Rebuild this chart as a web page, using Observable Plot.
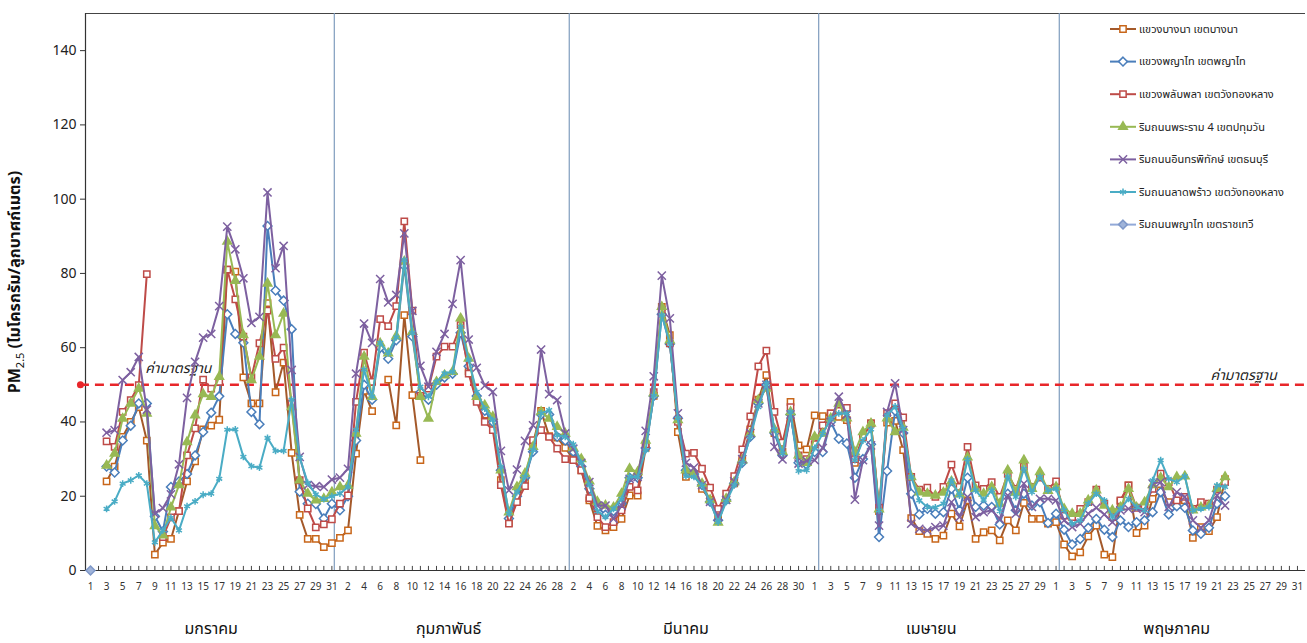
<!DOCTYPE html>
<html><head><meta charset="utf-8">
<script src="https://cdn.jsdelivr.net/npm/d3@7"></script>
<script src="https://cdn.jsdelivr.net/npm/@observablehq/plot@0.6"></script>
<style>body{margin:0;background:#fff}svg{display:block}</style>
</head><body><div id="chart"></div>
<script>
// ---------- data ----------
const monthNames = ["มกราคม","กุมภาพันธ์","มีนาคม","เมษายน","พฤษภาคม"];
const monthDays = [31, 28, 31, 30, 31];
const seriesNames = [
  "แขวงบางนา เขตบางนา",
  "แขวงพญาไท เขตพญาไท",
  "แขวงพลับพลา เขตวังทองหลาง",
  "ริมถนนพระราม 4 เขตปทุมวัน",
  "ริมถนนอินทรพิทักษ์ เขตธนบุรี",
  "ริมถนนลาดพร้าว เขตวังทองหลาง",
  "ริมถนนพญาไท เขตราชเทวี"
];
const yTicks = [0, 20, 40, 60, 80, 100, 120, 140];
const standardValue = 50;
const standardLabel = "ค่ามาตรฐาน";
const dividerAt = [30.3, 59.5, 90.5, 120.4];

// daily values, Jan 1 .. May 31 (missing days = null)
const bangna = [
  null,null,24,28,36,40,44,35,4.3,7.5,8.5,16,24,29.4,38,39,40.6,81,80.5,52,45,45,72,48,56,31.7,15,8.5,8.5,6.3,7.4,
  8.8,10.8,31.5,48.4,42.9,null,51.4,39.1,68.8,47.2,29.7,null,null,null,null,null,53.7,45.9,42,40,24.3,12.8,18.9,24.3,34.2,43,36.2,35.8,
  33,30,27,18.9,12,10.8,11.7,13.9,20.2,20.2,33,47,71,63.4,37.3,25.2,26,22,19,14.4,19,23.5,30,38,46,52.6,37,32,45.4,33.7,32.6,
  41.8,41.6,42.3,41.4,40.5,29,36,39.6,16,39.8,40.3,32.4,14.1,10.6,9.9,8.5,9.4,15.3,11.9,18.9,8.5,10.3,10.8,8.1,13.5,10.8,18.2,13.9,13.9,12.6,
  13,7,3.8,4.9,9.2,12.1,4.3,3.6,18.6,22.9,10.1,12.1,19.3,21.6,18.4,18.4,18.9,8.8,11.7,10.6,14.4,24.6
];
const phayathai = [
  null,null,28,26.4,35,39,45,45,14.6,10.5,22.5,24,26,31,37.3,42.5,46.9,69,63.7,61.3,42.7,39.4,92.8,75.4,72.7,65,21.2,18,17.9,14,18,
  16.2,20,35,50,46,60,57,62,82,63,48,46,50,52,53,64,55,47,43,40,27,14,20,25,32,42,42,36,
  35,32,28,22,17,15,16,18,25,25,33,47,69,61,41,27,26,23,18.5,13.5,19,23.5,29,36,45,50,37,31,42,29,28.5,
  31.9,31.9,40,35.5,34.2,25,30,34,9,26.8,43,37,20.7,15.1,16.6,15.3,15.7,22,16.2,25,17.1,17.5,17.1,12.4,20.7,16.2,20.7,17.5,18.4,12.8,
  15.3,11,7,8.5,11.5,13.9,11,9,13.5,11.7,13,13.5,15.7,21.1,15.1,17.3,16.9,10.8,9.9,11.5,18,20
];
const phlapphla = [
  null,null,34.8,33.3,42.7,45.9,49.9,79.8,null,9,14.3,16,31,38.3,51.4,49,50.8,81,73,63,52,61.2,70,57,60,45,24.3,16.7,11.6,12.4,13.8,
  18,20.2,45.4,58.7,50.8,67.7,65.8,71.2,94,70,47,49,57.6,60.3,60.3,66.1,53,45.4,40,37.8,23,12.6,18.4,22.7,35.1,37.8,36,32.8,
  30,29.7,27,19.5,14.4,11.7,13,16.2,22.5,21.6,34,48,70.1,61.2,40,31.5,31.7,27.4,22.3,16.6,20.7,25.4,32.6,41.5,55,59.2,42.7,34.4,44,31,30,
  34,39.1,42.3,43,43.8,30,36,39.6,16.9,42.4,45,41.2,25.2,21.8,22.3,19.8,22.5,28.5,22.5,33.3,22.9,22,23.8,19.8,26,22,28,22.5,25,22,
  24,14.8,14.4,16.6,18.4,21.8,18,14.4,18.9,22.9,16.9,17.5,22,26.1,23.8,18.9,19.8,16.6,18.4,18,21.8,23.8
];
const rama4 = [
  null,null,28.3,31.5,40.9,45,49,42.3,12,9.5,17,23,34.6,41.8,47.5,46.8,52.2,88.6,78,63.4,51.3,57.6,77.3,63.4,69.2,44,24.3,20.7,18.9,19.3,21.1,
  22.5,22.9,36.9,57.6,46.8,61.2,58.5,63.1,83.2,64.3,46.8,40.9,50.8,52.6,53.5,67.9,57.1,46.8,44.5,41.4,27,15.7,22.5,26.1,33.3,42.7,40.9,38.7,
  36.9,33,30,24,18.5,17.5,17,20.7,27.4,26.5,35,47.7,71,62,40.5,27,26,23.4,19,12.9,19.3,23.8,29.7,36.9,45.9,49,38,32,42.7,31,29,
  36,36.9,41,45,41,31.9,37.3,39.6,16.5,41,37.3,38.5,25.2,21.1,20.7,20.2,21,24,20.5,30.5,22,20.7,22.5,18,27,21,29.7,22,26.5,21.5,
  22.5,16.6,15.3,15.3,18.9,21.6,17.5,16.2,17,22,17,18.4,23,25,22.5,25.2,25.4,16.2,17,17.5,22,25.2
];
const inthara = [
  null,null,37.1,37.8,51.3,53.4,57.5,43.3,15.3,16.8,20.5,28.6,46.5,56.2,62.7,63.7,71.2,92.6,86.5,78.7,66.7,68.3,101.8,81.4,87.4,54,30.6,23,22.7,22.5,24.5,
  25,27.4,53,66.5,61.3,78.5,72.2,74.2,90.8,69.9,55.1,49.5,58.9,63.7,71.8,83.6,62.2,54.6,49.8,48.1,32.2,21.6,27.2,34.9,39.1,59.5,47.5,45.9,
  36.9,32.8,29,23.8,17.5,17.5,13.9,17.5,24.7,25.2,37.6,52.3,79.4,67.9,42.3,29,27.7,23,18.5,14.5,19,24,30,37,45,50,33.3,29.9,42,28.8,29.5,
  29.7,33,40,46.8,42,19.1,29.7,33.7,12.1,42.7,50.4,37.8,12.6,11.2,10.8,11.7,12.1,18.4,14.4,19.8,14.4,15.7,16.2,13.9,20.2,15.3,23.4,17.1,19.3,19.3,
  18.9,13.5,11.7,12.6,15.3,16.9,15.1,13,16.2,16.6,16.6,15.7,23.4,23.8,17.1,21.1,19.8,13.5,11.5,13.5,20.2,17.5
];
const latphrao = [
  null,null,16.6,18.6,23.4,24.3,25.6,23.4,7.6,10.8,14.2,10.8,17.3,18.6,20.4,20.7,24.7,37.9,38,30.6,28.1,27.7,35.7,32.2,32.2,46,30.4,23.6,20.5,19.2,20,
  20.7,22.5,37.8,54.1,46.8,61.3,58.5,62.8,83.6,64,49.5,46.8,50.8,53.1,53.5,65.6,56.7,48.1,43.6,40.5,27.9,15.3,21.1,25.2,32.4,42.3,43.2,36.4,
  36,34,29,23,16,14.4,16.6,19.3,25.2,25.2,32.4,47,68.8,61,41,25.4,25.2,22.9,18.5,13,18.5,23,29,36,44,50.4,38,31.5,42.7,26.8,27,
  33,36.9,40.9,42.3,42.3,29.7,35,38,16.2,41.8,44.2,38.2,25.2,18.9,17.1,17,18,24.3,20.2,29.9,21.6,19,21.6,16,25.2,19.8,27.4,21.1,25.2,21.6,
  22,16.2,12.6,13.5,18,20.7,18.9,14.4,16.6,19.3,17.1,16.2,24.3,29.7,24.7,23.8,25.4,16.2,16.6,17.1,22.9,22.5
];
const rajthewi = [0];

const seriesData = [bangna, phayathai, phlapphla, rama4, inthara, latphrao, rajthewi];

// ---------- styles ----------
const styles = [
  {line: "#A4592A", mark: "#C8661A", symbol: "square2", fill: "white", r: 4},
  {line: "#4A7EBB", mark: "#4A7EBB", symbol: "diamond2", fill: "white", r: 4},
  {line: "#BE4B48", mark: "#BE4B48", symbol: "square2", fill: "white", r: 4},
  {line: "#98B954", mark: "#98B954", symbol: "triangle", fill: "#98B954", r: 3.2},
  {line: "#7D60A0", mark: "#7D60A0", symbol: "times", fill: "none", r: 3.8},
  {line: "#4AACC5", mark: "#4AACC5", symbol: "asterisk", fill: "none", r: 3.2},
  {line: "#92A9D8", mark: "#7F98C8", symbol: "diamond2", fill: "#9FB3D9", r: 4}
];
const FONT = "Tahoma, 'Noto Sans Thai', 'DejaVu Sans', 'Liberation Sans', sans-serif";

// ---------- derived tables ----------
const nDays = d3.sum(monthDays);
const dayIndex = d3.range(nDays);
const dayOfMonth = monthDays.flatMap(n => d3.range(1, n + 1));
const monthStart = d3.cumsum([0, ...monthDays]).slice(0, monthDays.length);
const monthCenter = monthStart.map((s, k) => s + (monthDays[k] - 1) / 2);
const labelledDays = dayIndex.filter(i => i % 2 === 0);

const rows = [];
seriesData.forEach((arr, s) => {
  for (let i = 0; i < nDays; i++) rows.push({s, i, v: arr[i] ?? null});
});

const W = 1307, H = 643;
const xDomain = [-0.62, 151];

const marks = [
  Plot.ruleY([150], {stroke: "#444", strokeWidth: 1}),
  Plot.ruleX(dividerAt, {stroke: "#7F9CBD", strokeWidth: 1.2}),
  Plot.ruleX(dayIndex.slice(1), {x: d => d, y1: 0, y2: 1.1, stroke: "#444", strokeWidth: 1}),
  Plot.ruleX([xDomain[0]], {stroke: "#333", strokeWidth: 1.2}),
  Plot.ruleY([0], {stroke: "#333", strokeWidth: 1.2}),
  Plot.axisY({ticks: yTicks, tickSize: 5, tickPadding: 4, fontSize: 14, label: null, stroke: "#333", color: "#222"}),
  Plot.text(labelledDays, {x: d => d, text: d => String(dayOfMonth[d]), frameAnchor: "bottom", dy: 19, fontSize: 10, fill: "#333"}),
  Plot.text(monthNames, {x: (d, k) => monthCenter[k], text: d => d, frameAnchor: "bottom", dy: 63, fontSize: 16, fill: "#111"}),
  Plot.ruleY([standardValue], {x1: -1.25, x2: xDomain[1], stroke: "#E8262A", strokeWidth: 2.5, strokeDasharray: "9,6"}),
  Plot.dot([standardValue], {x: -1.25, y: d => d, r: 3.5, fill: "#E8262A"}),
  Plot.text([standardLabel], {x: 6.8, y: standardValue + 4.3, text: d => d, textAnchor: "start", fontSize: 14, fontStyle: "italic", fill: "#222"}),
  Plot.text([standardLabel], {x: 139.2, y: standardValue + 2.4, text: d => d, textAnchor: "start", fontSize: 14, fontStyle: "italic", fill: "#222"})
];

styles.forEach((st, s) => {
  const data = rows.filter(d => d.s === s);
  marks.push(Plot.line(data, {x: "i", y: "v", stroke: st.line, strokeWidth: 2}));
  marks.push(Plot.dot(data.filter(d => d.v != null), {x: "i", y: "v", symbol: st.symbol, r: st.r, stroke: st.mark, fill: st.fill, strokeWidth: 1.5}));
});

const chart = Plot.plot({
  width: W, height: H,
  marginLeft: 85, marginRight: 2, marginTop: 13, marginBottom: 73,
  style: {fontFamily: FONT, background: "white", overflow: "visible"},
  x: {domain: xDomain, axis: null},
  y: {domain: [0, 150], axis: null},
  marks
});
document.getElementById("chart").append(chart);

// ---------- y axis title & legend ----------
const svg = d3.select(chart);
const title = svg.append("text")
  .attr("transform", "translate(20,282) rotate(-90)")
  .attr("text-anchor", "middle")
  .style("font-family", FONT).style("font-size", "16px").style("font-weight", "bold").attr("fill", "#111");
title.append("tspan").text("PM");
title.append("tspan").attr("dy", 4).style("font-size", "11px").style("font-weight", "normal").text("2.5");
title.append("tspan").attr("dy", -4).text(" (ไมโครกรัม/ลูกบาศก์เมตร)");

const symbolTypes = {square2: d3.symbolSquare2, diamond2: d3.symbolDiamond2, triangle: d3.symbolTriangle,
  times: d3.symbolTimes, asterisk: d3.symbolAsterisk, plus: d3.symbolPlus};
const lg = svg.append("g").attr("text-anchor", "start").style("font-family", FONT).style("font-size", "11px");
seriesNames.forEach((name, k) => {
  const st = styles[k];
  const y = 29 + 32.6 * k;
  lg.append("line").attr("x1", 1110).attr("x2", 1136).attr("y1", y).attr("y2", y)
    .attr("stroke", st.line).attr("stroke-width", 2);
  lg.append("path").attr("transform", `translate(1123,${y})`)
    .attr("d", d3.symbol(symbolTypes[st.symbol], Math.PI * st.r * st.r)())
    .attr("stroke", st.mark).attr("fill", st.fill).attr("stroke-width", 1.5);
  lg.append("text").attr("x", 1139).attr("y", y).attr("dy", "0.35em").attr("text-anchor", "start")
    .attr("fill", "#222").text(name);
});
</script>
</body></html>
